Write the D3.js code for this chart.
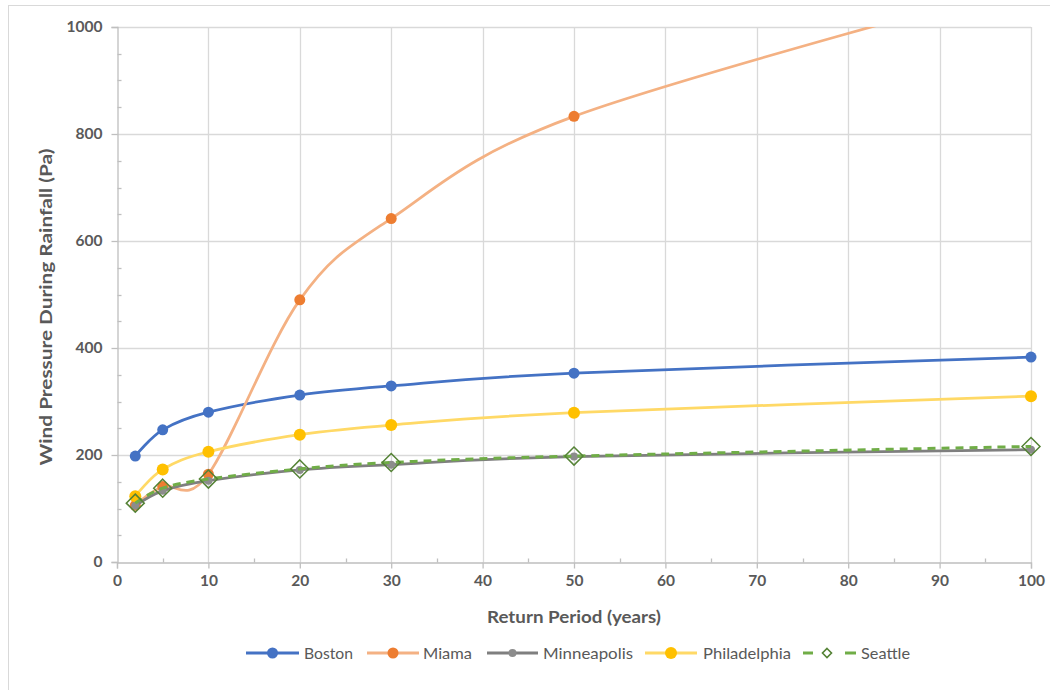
<!DOCTYPE html>
<html><head><meta charset="utf-8">
<script src="https://cdn.jsdelivr.net/npm/d3@7"></script>
<style>
html,body{margin:0;padding:0;background:#fff;}
svg{display:block;font-family:Lato,"Open Sans",sans-serif;}
</style></head>
<body>
<svg id="chart" width="1050" height="690"></svg>
<script>
const returnPeriods = [2, 5, 10, 20, 30, 50, 100];
const boston       = [198, 247, 280, 312, 329, 353, 383];
const miama        = [106, 141, 164, 490, 642, 833, 1082];
const minneapolis  = [105, 133, 152, 172, 182, 197, 210];
const philadelphia = [123, 173, 206, 238, 256, 279, 310];
const seattle      = [110, 138, 155, 174, 186, 198, 216];
const seriesNames  = ["Boston", "Miama", "Minneapolis", "Philadelphia", "Seattle"];
const xTicks = [0,10,20,30,40,50,60,70,80,90,100];
const yTicks = [0,200,400,600,800,1000];

const styles = {
  Boston:       {line:"#4472C4", marker:"#4472C4", w:2.75, r:5.5, shape:"circle"},
  Miama:        {line:"#F4B183", marker:"#ED7D31", w:2.75, r:5.5, shape:"circle"},
  Minneapolis:  {line:"#7F7F7F", marker:"#8C8C8C", w:2.75, r:4,   shape:"circle"},
  Philadelphia: {line:"#FFD966", marker:"#FFC000", w:2.75, r:6,   shape:"circle"},
  Seattle:      {line:"#70AD47", marker:"#548235", w:3,   r:9,   shape:"diamond", dash:"8,6"}
};
const seriesData = [boston, miama, minneapolis, philadelphia, seattle];

const svg = d3.select("#chart");
const L = 117, R = 1031, T = 27, B = 562;
const x = d3.scaleLinear().domain([0,100]).range([L,R]);
const y = d3.scaleLinear().domain([0,1000]).range([B,T]);

// outer border
svg.append("rect").attr("x",8.5).attr("y",5.5).attr("width",1200).attr("height",900)
  .attr("fill","none").attr("stroke","#D9D9D9").attr("stroke-width",1);

// gridlines
const grid = svg.append("g");
grid.selectAll(".gy").data(yTicks.filter(d=>d>0)).join("line")
  .attr("x1",L).attr("x2",R).attr("y1",d=>Math.round(y(d))+0.5).attr("y2",d=>Math.round(y(d))+0.5)
  .attr("stroke","#D9D9D9").attr("stroke-width",1.3);
grid.selectAll(".gx").data(xTicks.filter(d=>d>0)).join("line")
  .attr("y1",T).attr("y2",B).attr("x1",d=>Math.round(x(d))+0.5).attr("x2",d=>Math.round(x(d))+0.5)
  .attr("stroke","#D9D9D9").attr("stroke-width",1.3);

// axes
const axisColor = "#BFBFBF";
const xAxis = svg.append("g").attr("transform",`translate(0,${B+0.5})`)
  .call(d3.axisBottom(x).tickValues(xTicks).tickSize(6).tickPadding(6).tickFormat(d3.format("d")));
const yAxis = svg.append("g").attr("transform",`translate(${L+0.5},0)`)
  .call(d3.axisLeft(y).tickValues(yTicks).tickSize(6).tickPadding(9).tickFormat(d3.format("d")));
[xAxis,yAxis].forEach(a=>{
  a.select(".domain").attr("stroke",axisColor).attr("stroke-width",1.3);
  a.selectAll(".tick line").attr("stroke",axisColor).attr("stroke-width",1.3);
  a.selectAll(".tick text").attr("fill","#595959").attr("font-size",15.5).attr("font-weight","bold")
   .attr("font-family","Lato, sans-serif");
});
// minor ticks (inside)
const minorX = d3.range(5,100,10);
svg.append("g").selectAll("line").data(minorX).join("line")
  .attr("x1",d=>Math.round(x(d))+0.5).attr("x2",d=>Math.round(x(d))+0.5)
  .attr("y1",B+0.5).attr("y2",B-3.5).attr("stroke",axisColor).attr("stroke-width",1.3);
const minorY = d3.range(50,1000,50).filter(d=>d%200!==0);
svg.append("g").selectAll("line").data(minorY).join("line")
  .attr("y1",d=>Math.round(y(d))+0.5).attr("y2",d=>Math.round(y(d))+0.5)
  .attr("x1",L+0.5).attr("x2",L+4.5).attr("stroke",axisColor).attr("stroke-width",1.3);

// axis titles
svg.append("text").attr("x",574).attr("y",623).attr("text-anchor","middle")
  .attr("font-size",17).attr("font-weight","bold").attr("fill","#595959")
  .attr("textLength",174).attr("lengthAdjust","spacingAndGlyphs").text("Return Period (years)");
svg.append("text").attr("transform",`translate(52,307) rotate(-90)`).attr("text-anchor","middle")
  .attr("font-size",17).attr("font-weight","bold").attr("fill","#595959")
  .attr("textLength",317).attr("lengthAdjust","spacingAndGlyphs").text("Wind Pressure During Rainfall (Pa)");

// clip
svg.append("clipPath").attr("id","plotclip").append("rect")
  .attr("x",L-15).attr("y",T).attr("width",R-L+30).attr("height",B-T+15);

const line = d3.line().x(d=>x(d[0])).y(d=>y(d[1])).curve(d3.curveCardinal.tension(0));
const plot = svg.append("g").attr("clip-path","url(#plotclip)");
const diamond = r => `M0,${-r}L${r},0L0,${r}L${-r},0Z`;

seriesNames.forEach((name,i)=>{
  const st = styles[name];
  const pts = returnPeriods.map((p,j)=>[p, seriesData[i][j]]);
  const g = plot.append("g");
  g.append("path").datum(pts).attr("d",line).attr("fill","none")
    .attr("stroke",st.line).attr("stroke-width",st.w).attr("stroke-dasharray",st.dash||null)
    .attr("stroke-linejoin","round");
  const vis = pts.filter(d=>d[1]<=1000);
  if(st.shape==="circle"){
    g.selectAll("circle").data(vis).join("circle")
      .attr("cx",d=>x(d[0])).attr("cy",d=>y(d[1])).attr("r",st.r).attr("fill",st.marker);
  } else {
    g.selectAll("path.m").data(vis).join("path").attr("class","m")
      .attr("transform",d=>`translate(${x(d[0])},${y(d[1])})`).attr("d",diamond(st.r))
      .attr("fill","none").attr("stroke",st.marker).attr("stroke-width",1.5);
  }
});

// legend
const legendItems = [
  {name:"Boston", x0:246, x1:299, tx:304, tw:49},
  {name:"Miama", x0:367, x1:419, tx:423, tw:49},
  {name:"Minneapolis", x0:487, x1:538, tx:543, tw:90},
  {name:"Philadelphia", x0:645, x1:697, tx:703, tw:88},
  {name:"Seattle", x0:803, x1:856, tx:861, tw:49}
];
const lg = svg.append("g");
const ly = 653;
legendItems.forEach(it=>{
  const st = styles[it.name];
  if(st.shape==="circle"){
    const cx = (it.x0+it.x1)/2;
    lg.append("line").attr("x1",it.x0).attr("x2",it.x1).attr("y1",ly).attr("y2",ly)
      .attr("stroke",st.line).attr("stroke-width",3);
    lg.append("circle").attr("cx",cx).attr("cy",ly).attr("r",st.r).attr("fill",st.marker);
  } else {
    lg.append("line").attr("x1",it.x0).attr("x2",it.x0+10).attr("y1",ly).attr("y2",ly)
      .attr("stroke",st.line).attr("stroke-width",3);
    lg.append("line").attr("x1",it.x1-11).attr("x2",it.x1).attr("y1",ly).attr("y2",ly)
      .attr("stroke",st.line).attr("stroke-width",3);
    lg.append("path").attr("transform",`translate(827,${ly})`).attr("d",diamond(4.5))
      .attr("fill","#fff").attr("stroke",st.marker).attr("stroke-width",1.6);
  }
  lg.append("text").attr("x",it.tx).attr("y",ly).attr("dy","0.36em")
    .attr("font-size",16).attr("fill","#595959")
    .attr("textLength",it.tw).attr("lengthAdjust","spacingAndGlyphs").text(it.name);
});
</script>
</body></html>
